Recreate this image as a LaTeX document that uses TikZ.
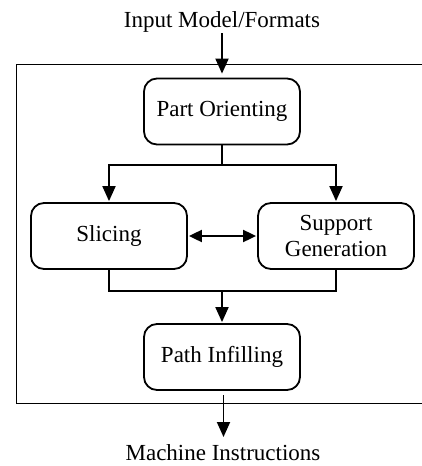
\documentclass[tikz,border=0pt]{standalone}
\usepackage{fontspec}
\setmainfont{Liberation Serif}
\usetikzlibrary{arrows.meta}
\begin{document}
\begin{tikzpicture}[x=1pt,y=-1pt,
  every node/.style={font=\fontsize{23}{27.5}\selectfont},
  proc/.style={draw, line width=1.8pt, rounded corners=13pt, minimum width=156pt, minimum height=66pt, align=center, inner sep=2pt},
  lbl/.style={inner sep=0pt},
  conn/.style={line width=1.9pt},
  arr/.style={conn, -{Triangle[length=15pt,width=13pt]}},
  darr/.style={conn, {Triangle[length=13pt,width=12pt]}-{Triangle[length=13pt,width=12pt]}}
]
\useasboundingbox (0,0) rectangle (422,466);
% outer frame
\draw[line width=1pt] (422,64) -- (16,64) -- (16,403) -- (422,403);
% labels
\node[lbl, anchor=base] (in) at (222,27) {Input Model/Formats};
\node[lbl, anchor=base] (mi) at (223,460) {Machine Instructions};
% processes
\node[proc] (po) at (222,111.5) {Part Orienting};
\node[proc] (sl) at (109,236) {Slicing};
\node[proc] (su) at (336,236) {Support\\[-1pt]Generation};
\node[proc] (pi) at (222,357) {Path Infilling};
% helper coordinates
\coordinate (split) at (222,165);
\coordinate (merge) at (222,291);
\coordinate (ins) at (222,33);
\coordinate (outs) at (223.5,395);
\coordinate (oute) at (223.5,437);
% connectors
\draw[arr, shorten >=4pt] (ins) -- (po.north);
\draw[conn] (po.south) -- (split);
\draw[arr, shorten >=1pt] (split) -| (sl.north);
\draw[arr, shorten >=1pt] (split) -| (su.north);
\draw[darr, shorten <=1pt, shorten >=1pt] (sl.east) -- (su.west);
\draw[conn] (sl.south) |- (merge);
\draw[conn] (su.south) |- (merge);
\draw[arr, shorten >=1pt] (merge) -- (pi.north);
\draw[arr] (outs) -- (oute);
\end{tikzpicture}
\end{document}
